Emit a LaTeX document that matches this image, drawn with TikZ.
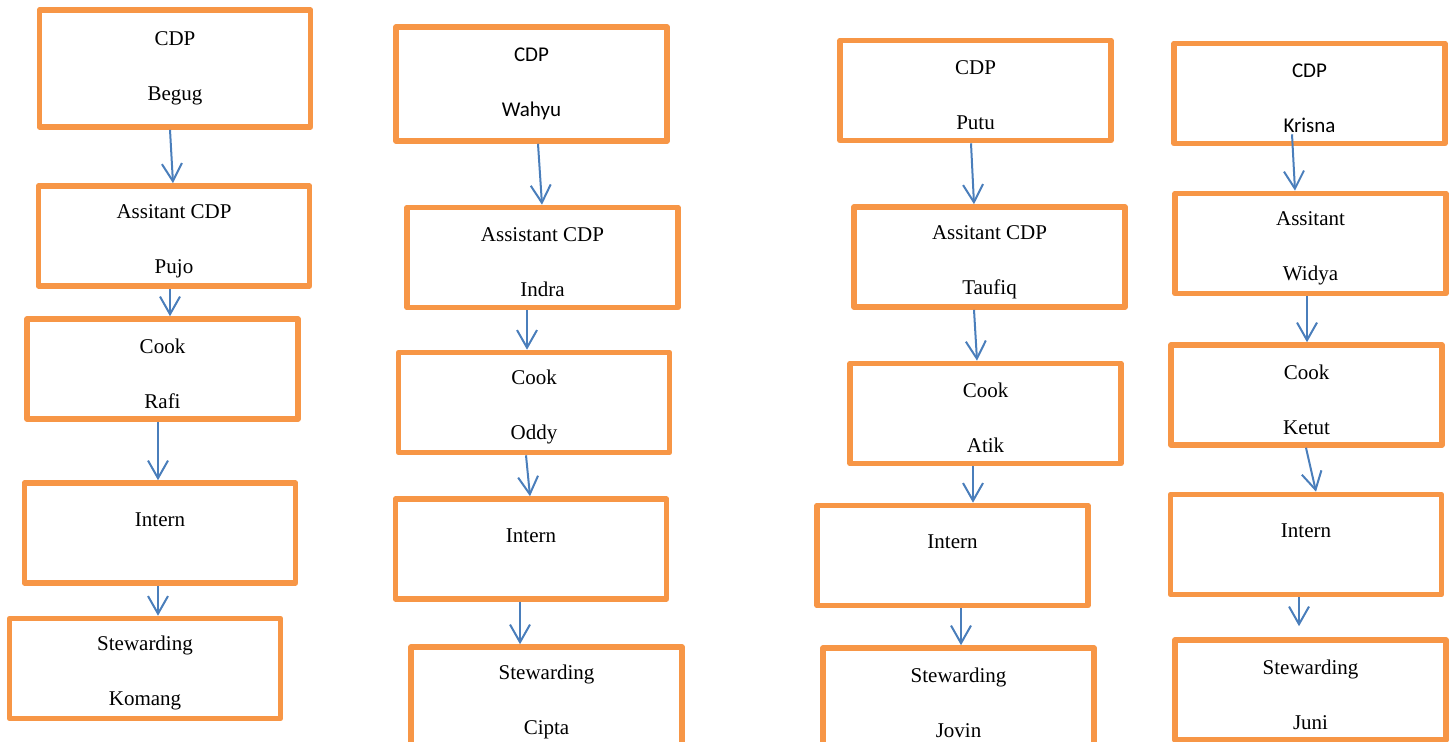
\documentclass[tikz,border=0pt]{standalone}
\usepackage{fontspec}
\setmainfont{Liberation Serif}
\newfontfamily\calibri{Carlito}
\usetikzlibrary{arrows.meta}
\definecolor{boxorange}{HTML}{F79646}
\definecolor{linkblue}{HTML}{4A7EBB}
\newcommand\upstrut{\rule{0pt}{12pt}}

\begin{document}
\begin{tikzpicture}
  [x=0.5pt,y=-0.5pt,
   every node/.style={rectangle,draw=boxorange,line width=2.8pt,line join=round,
     minimum width=135.5pt,minimum height=50pt,inner sep=0pt,align=center,
     font=\fontsize{10.5}{12.6}\selectfont},
   calib/.style={font=\calibri\fontsize{10.5}{12.6}\selectfont},
   intern/.style={text depth=13.5pt},
   link/.style={draw=linkblue,line width=1pt,-{Straight Barb[length=8.8pt,width=10pt]}}]
  \clip (0,0) rectangle (1455,742);

  % kolom 1
  \node[minimum height=58.5pt] (a1) at (175,68.5) {CDP\\[14.9pt]Begug};
  \node (a2) at (174,236)     {\upstrut Assitant CDP\\[14.9pt]Pujo};
  \node (a3) at (162.5,369)   {\upstrut Cook\\[14.9pt]Rafi};
  \node[intern] (a4) at (160,533) {Intern};
  \node (a5) at (145,668.5)   {\upstrut Stewarding\\[14.9pt]Komang};

  % kolom 2
  \node[calib,minimum height=57pt] (b1) at (531.5,84) {CDP\\[14.9pt]Wahyu};
  \node (b2) at (542.5,257.5) {\upstrut Assistant CDP\\[14.9pt]Indra};
  \node (b3) at (534,402.5)   {\upstrut Cook\\[14.9pt]Oddy};
  \node[intern] (b4) at (531,549) {Intern};
  \node (b5) at (546.5,697)   {\upstrut Stewarding\\[14.9pt]Cipta};

  % kolom 3
  \node (c1) at (975.5,90.5)  {\upstrut CDP\\[14.9pt]Putu};
  \node (c2) at (989.5,257)   {\upstrut Assitant CDP\\[14.9pt]Taufiq};
  \node (c3) at (985.5,413.5) {\upstrut Cook\\[14.9pt]Atik};
  \node[intern] (c4) at (952.5,555.5) {Intern};
  \node (c5) at (958.5,698)   {\upstrut Stewarding\\[14.9pt]Jovin};

  % kolom 4
  \node[calib] (d1) at (1309.5,93.5) {\upstrut CDP\\[14.9pt]Krisna};
  \node (d2) at (1310.5,243.5) {\upstrut Assitant\\[14.9pt]Widya};
  \node (d3) at (1306.5,395)   {\upstrut Cook\\[14.9pt]Ketut};
  \node[intern] (d4) at (1306,544.5) {Intern};
  \node (d5) at (1310.5,690)   {\upstrut Stewarding\\[14.9pt]Juni};

\foreach \from/\fx/\fy/\to/\tx/\ty in
{a1/-2.5/0/a2/-0.5/0, a2/-2/0/a3/3.75/0, a3/-2.25/0/a4/-1/0, a4/-1/0/a5/6.5/0,
 b1/3.25/0/b2/-0.25/0, b2/-7.75/0/b3/-3.5/0, b3/-4/0/b4/-0.5/0, b4/-5.5/0/b5/-13.25/0,
 c1/-2.25/0/c2/-7.75/0, c2/-7.75/0/c3/-4.25/0, c3/-6.25/0/c4/10.25/0, c4/4.25/0/c5/1.25/0,
 d1/-8.75/6/d2/-7.75/0, d2/-1.75/0/d3/0.25/0, d3/-0.25/0/d4/5/0, d4/-3.5/0/d5/-5.75/5.5}
    \draw[link] ([xshift=\fx pt,yshift=\fy pt]\from.south) -- ([xshift=\tx pt,yshift=\ty pt]\to.north);
\end{tikzpicture}
\end{document}
